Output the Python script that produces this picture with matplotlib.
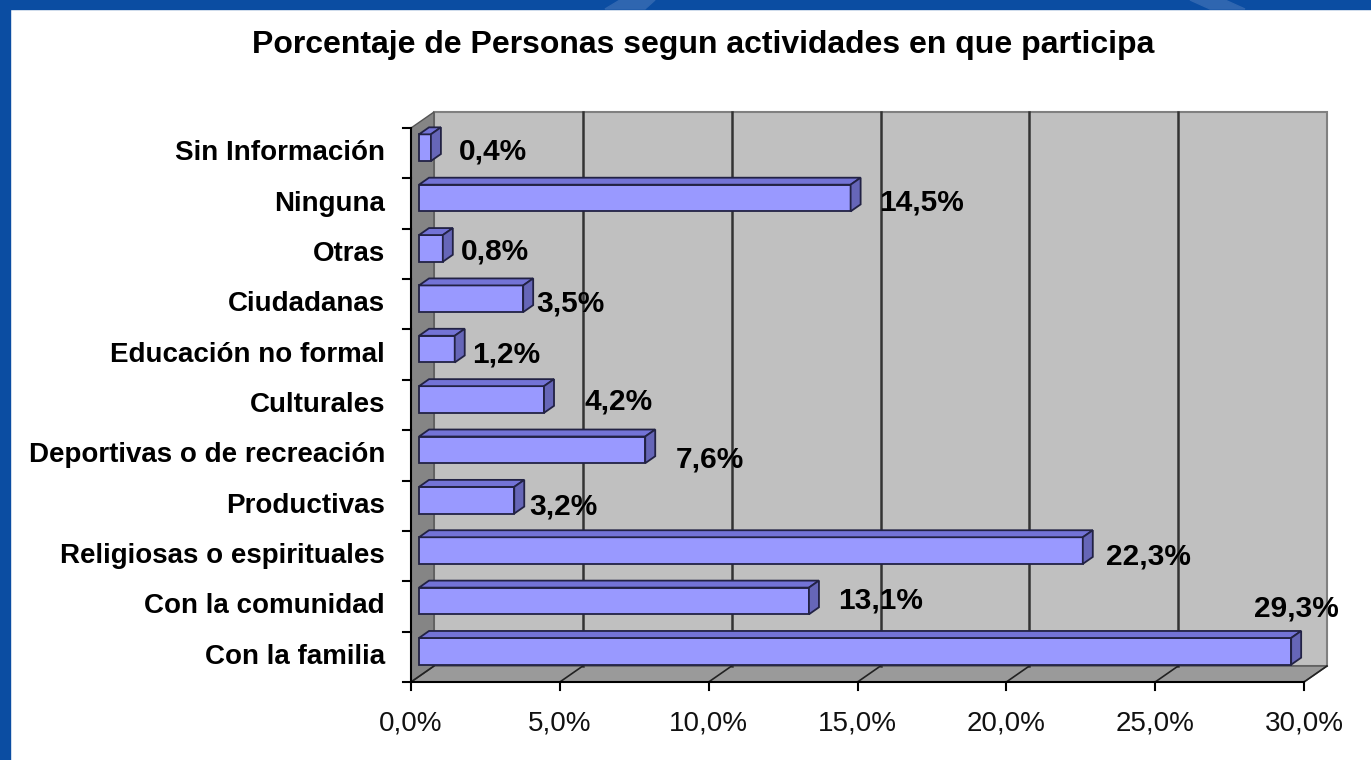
import matplotlib.pyplot as plt
from matplotlib.patches import Polygon, Rectangle

categories = ['Con la familia', 'Con la comunidad', 'Religiosas o espirituales',
              'Productivas', 'Deportivas o de recreación', 'Culturales',
              'Educación no formal', 'Ciudadanas', 'Otras', 'Ninguna',
              'Sin Información']
values = [29.3, 13.1, 22.3, 3.2, 7.6, 4.2, 1.2, 3.5, 0.8, 14.5, 0.4]
value_labels = ['29,3%', '13,1%', '22,3%', '3,2%', '7,6%', '4,2%',
                '1,2%', '3,5%', '0,8%', '14,5%', '0,4%']
xticks = [0, 5, 10, 15, 20, 25, 30]
xtick_labels = ['0,0%', '5,0%', '10,0%', '15,0%', '20,0%', '25,0%', '30,0%']
title = 'Porcentaje de Personas segun actividades en que participa'

# label nudges in pixels, (right, down) from the bar end (Excel placed them irregularly)
label_nudge = [(-47, -43), (19, 0), (13, 6), (5, 6), (21, 10), (30, 2),
               (7, 5), (3, 5), (8, 3), (19, 4), (18, 4)]

FONT = 'Liberation Sans'
W, H = 1371, 760

fig = plt.figure(figsize=(W / 100, H / 100), dpi=100)
fig.patch.set_facecolor('white')

# blue frame
frame = fig.add_axes([0, 0, 1, 1])
frame.set_xlim(0, W)
frame.set_ylim(H, 0)
frame.axis('off')
frame.add_patch(Rectangle((0, 0), 10, H, color='#0B4DA2'))
frame.add_patch(Rectangle((0, 0), W, 9, color='#0B4DA2'))
frame.add_patch(Polygon([(620, 0), (655, 0), (645, 9), (605, 9)], color='#2F66B0'))
frame.add_patch(Polygon([(1190, 0), (1225, 0), (1245, 9), (1210, 9)], color='#2F66B0'))

# front plane of the 3d chart
left, right, bottom, top = 411, 1304, 682, 128
ax = fig.add_axes([left / W, 1 - bottom / H, (right - left) / W, (bottom - top) / H])
ax.set_xlim(0, 30)
ax.set_ylim(-0.5, len(categories) - 0.5)
ax.axis('off')

px_x = (right - left) / 30.0
px_y = (bottom - top) / len(categories)


def off(x, y, dx, dy):
    return (x + dx / px_x, y + dy / px_y)


DX, DY = 23, 16
y0, y1 = -0.5, len(categories) - 0.5

# back wall
ax.add_patch(Polygon([off(0, y0, DX, DY), off(30, y0, DX, DY), off(30, y1, DX, DY),
                      off(0, y1, DX, DY)], closed=True, facecolor='#C0C0C0',
                     edgecolor='#808080', lw=1.5, clip_on=False, zorder=1))
# floor
ax.add_patch(Polygon([(0, y0), (30, y0), off(30, y0, DX, DY), off(0, y0, DX, DY)],
                     closed=True, facecolor='#9A9A9A', edgecolor='#555555', lw=1,
                     clip_on=False, zorder=1))
# left wall
ax.add_patch(Polygon([(0, y0), (0, y1), off(0, y1, DX, DY), off(0, y0, DX, DY)],
                     closed=True, facecolor='#858585', edgecolor='#555555', lw=1,
                     clip_on=False, zorder=1))

for t in xticks[1:-1]:
    p0 = off(t, y0, DX, DY)
    p1 = off(t, y1, DX, DY)
    ax.plot([p0[0], p1[0]], [p0[1], p1[1]], color='#333333', lw=1.8, zorder=2,
            clip_on=False)
for t in xticks:
    p = off(t, y0, DX, DY)
    ax.plot([t, p[0]], [y0, p[1]], color='#222222', lw=1.2, zorder=2, clip_on=False)

# axes lines and ticks
ax.plot([0, 0], [y0, y1], color='black', lw=1.5, zorder=6, clip_on=False)
ax.plot([0, 30], [y0, y0], color='black', lw=1.5, zorder=6, clip_on=False)
for t, tl in zip(xticks, xtick_labels):
    ax.plot([t, t], [y0, y0 - 8 / px_y], color='black', lw=1.5, zorder=6, clip_on=False)
    ax.text(t, y0 - 41 / px_y, tl, ha='center', va='center', fontsize=20,
            family=FONT, color='#111111')
for k in range(len(categories) + 1):
    yk = k - 0.5
    ax.plot([0, -8 / px_x], [yk, yk], color='black', lw=1.5, zorder=6, clip_on=False)

# bars
BH = 0.53
F0 = (8, 5.5)
F1 = (18, 12.5)
for i, (v, lab) in enumerate(zip(values, value_labels)):
    yb = i - BH / 2
    yt = i + BH / 2
    fl = off(0, yb, *F0)
    ax.barh(fl[1] + BH / 2, v, height=BH, left=fl[0], color='#9999FF',
            edgecolor='#222244', lw=1.3, zorder=4)
    # top face
    ax.add_patch(Polygon([off(0, yt, *F0), off(v, yt, *F0), off(v, yt, *F1),
                          off(0, yt, *F1)], closed=True, facecolor='#7373D6',
                         edgecolor='#222244', lw=1.3, zorder=4, clip_on=False))
    # side face
    ax.add_patch(Polygon([off(v, yb, *F0), off(v, yt, *F0), off(v, yt, *F1),
                          off(v, yb, *F1)], closed=True, facecolor='#6666B8',
                         edgecolor='#222244', lw=1.3, zorder=4, clip_on=False))
    nx, ny = label_nudge[i]
    lx, ly = off(v, i, F1[0] + nx, F0[1] - ny)
    ax.text(lx, ly, lab, ha='left', va='center', fontsize=21.5, fontweight='bold',
            family=FONT, color='black', zorder=7)

    ax.text(-26 / px_x, i, categories[i], ha='right', va='center', fontsize=20,
            fontweight='bold', family=FONT, color='black')

fig.text(703 / W, 1 - 45 / H, title, ha='center', va='center', fontsize=23,
         fontweight='bold', family=FONT, color='black')

fig.savefig('out.png', dpi=100)
